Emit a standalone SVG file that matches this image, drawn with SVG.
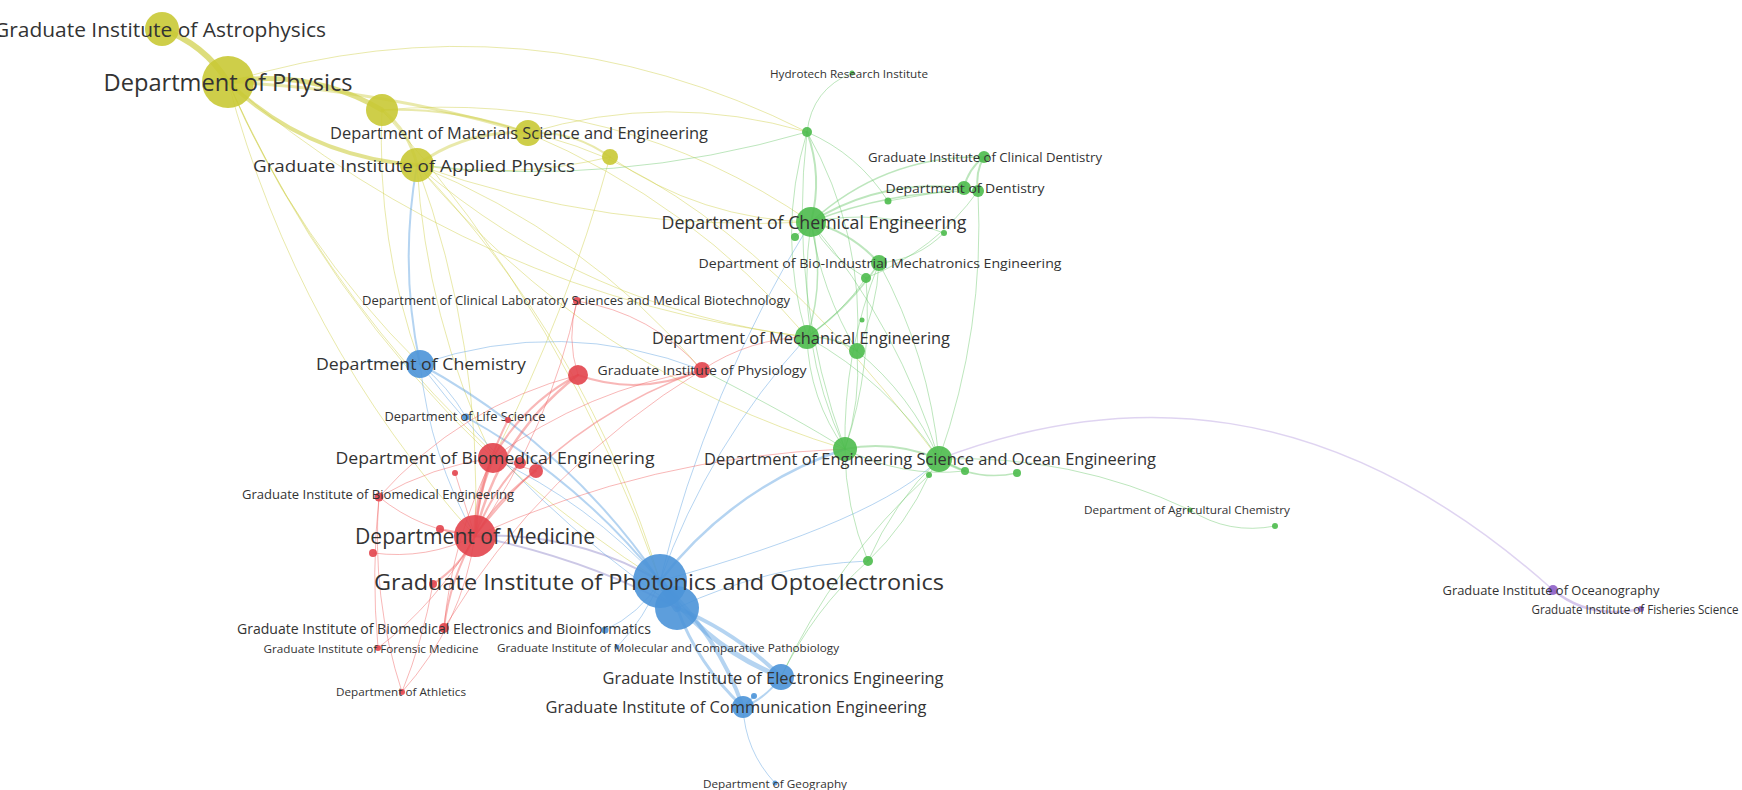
<svg xmlns="http://www.w3.org/2000/svg" width="1742" height="790" viewBox="0 0 1742 790">
<style>
.edges path{fill:none;stroke-opacity:.45;stroke-width:1;stroke-linecap:round}
.ey{stroke:#cfcf45}.eg{stroke:#6cc86c}.eb{stroke:#5b9fe0}.er{stroke:#ef6060}.ep{stroke:#b9a0e0}
.ny{fill:#c9c935;fill-opacity:.9}.ng{fill:#4cbb4c;fill-opacity:.9}.nb{fill:#4b93d8;fill-opacity:.9}.nr{fill:#e2444c;fill-opacity:.9}.np{fill:#8e5fc7;fill-opacity:.9}
text{font-family:"Open Sans","Noto Sans","Liberation Sans",sans-serif;fill:#333;text-anchor:middle;dominant-baseline:central}
</style>
<rect width="1742" height="790" fill="#fff"/>
<g id="connectors" class="edges">
<!-- yellow -->
<path class="ey" style="stroke-width:6;stroke-opacity:.7" d="M162,29 Q204,44 228,82"/>
<path class="ey" style="stroke-width:5;stroke-opacity:.65" d="M228,82 Q310,68 382,110"/>
<path class="ey" style="stroke-width:4;stroke-opacity:.6" d="M228,82 Q307,157 417,165"/>
<path class="ey" style="stroke-width:3" d="M228,82 Q381,89 528,133"/>
<path class="ey" style="stroke-width:2" d="M382,110 Q457,107 528,133"/>
<path class="ey" style="stroke-width:3" d="M382,110 Q409,131 417,165"/>
<path class="ey" style="stroke-width:3" d="M417,165 Q467,129 528,133"/>
<path class="ey" style="stroke-width:2" d="M528,133 Q573,130 610,157"/>
<path class="ey" d="M417,165 Q514,180 610,157"/>
<path class="ey" d="M228,82 Q527,-9 807,132"/>
<path class="ey" d="M382,110 Q617,89 811,222"/>
<path class="ey" d="M528,133 Q667,91 807,132"/>
<path class="ey" d="M417,165 Q608,233 811,222"/>
<path class="ey" d="M610,157 Q701,220 811,222"/>
<path class="ey" d="M417,165 Q586,310 807,337"/>
<path class="ey" d="M417,165 Q588,371 845,449"/>
<path class="ey" d="M228,82 Q296,242 420,364"/>
<path class="ey" d="M228,82 Q297,339 475,536"/>
<path class="ey" d="M228,82 Q369,396 660,581"/>
<path class="ey" d="M417,165 Q483,345 475,536"/>
<path class="ey" d="M417,165 Q588,344 660,581"/>
<path class="ey" d="M417,165 Q426,319 493,458"/>
<path class="ey" d="M382,110 Q568,318 660,581"/>
<path class="ey" d="M228,82 Q323,297 493,458"/>
<path class="ey" d="M417,165 Q584,233 702,370"/>
<path class="ey" d="M528,133 Q692,202 807,337"/>
<path class="ey" d="M610,157 Q567,313 493,458"/>
<path class="ey" d="M382,110 Q376,241 420,364"/>
<path class="ey" d="M228,82 Q479,296 807,337"/>
<path class="ey" d="M528,133 Q720,170 939,459"/>
<!-- blue -->
<path class="eb" style="stroke-width:2" d="M420,364 Q399,265 417,165"/>
<path class="eb" style="stroke-width:8;stroke-opacity:.7" d="M660,581 L677,608"/>
<path class="eb" style="stroke-width:5" d="M660,581 Q706,647 781,677"/>
<path class="eb" style="stroke-width:4" d="M660,581 Q717,634 743,707"/>
<path class="eb" style="stroke-width:4" d="M677,608 Q736,632 781,677"/>
<path class="eb" style="stroke-width:3" d="M677,608 Q698,665 743,707"/>
<path class="eb" style="stroke-width:2" d="M781,677 Q765,699 743,707"/>
<path class="eb" d="M743,707 Q745,751 775,783"/>
<path class="eb" style="stroke-width:2" d="M743,707 L754,696"/>
<path class="eb" d="M660,581 Q645,618 617,647"/>
<path class="eb" d="M660,581 Q640,614 605,630"/>
<path class="eb" style="stroke-width:2.5" d="M660,581 Q733,487 845,449"/>
<path class="eb" d="M660,581 Q709,444 807,337"/>
<path class="eb" d="M660,581 Q707,389 811,222"/>
<path class="eb" style="stroke-width:2;stroke:#8f86c8" d="M660,581 Q574,531 475,536"/>
<path class="eb" style="stroke-width:2;stroke:#8f86c8" d="M677,608 Q590,560 475,536"/>
<path class="eb" d="M660,581 Q589,503 493,458"/>
<path class="eb" style="stroke-width:2" d="M660,581 Q579,480 466,417"/>
<path class="eb" style="stroke-width:2" d="M660,581 Q566,444 420,364"/>
<path class="eb" d="M420,364 Q448,386 466,417"/>
<path class="eb" d="M420,364 L369,361"/>
<path class="eb" d="M420,364 Q430,456 475,536"/>
<path class="eb" d="M420,364 Q562,316 702,370"/>
<path class="eb" d="M420,364 Q529,507 677,608"/>
<path class="eb" d="M677,608 Q768,565 868,561"/>
<path class="eb" d="M660,581 Q880,520 939,459"/>
<!-- red -->
<path class="er" style="stroke-width:4" d="M475,536 Q476,495 493,458"/>
<path class="er" style="stroke-width:2.5" d="M475,536 Q498,437 578,375"/>
<path class="er" style="stroke-width:1.5" d="M475,536 Q564,419 702,370"/>
<path class="er" style="stroke-width:2" d="M493,458 Q523,404 578,375"/>
<path class="er" d="M493,458 Q587,389 702,370"/>
<path class="er" style="stroke-width:2" d="M578,375 Q639,397 702,370"/>
<path class="er" d="M577,301 Q566,338 578,375"/>
<path class="er" d="M577,301 Q550,429 475,536"/>
<path class="er" d="M577,301 Q652,313 702,370"/>
<path class="er" d="M475,536 Q421,531 379,497"/>
<path class="er" style="stroke-width:2" d="M475,536 L440,529"/>
<path class="er" d="M475,536 Q427,560 373,553"/>
<path class="er" style="stroke-width:2" d="M475,536 Q461,566 433,584"/>
<path class="er" style="stroke-width:2" d="M475,536 Q450,579 444,628"/>
<path class="er" d="M475,536 Q438,602 378,648"/>
<path class="er" d="M475,536 Q462,625 402,692"/>
<path class="er" d="M379,497 Q371,572 378,648"/>
<path class="er" d="M379,497 Q371,597 402,692"/>
<path class="er" style="stroke-width:2" d="M475,536 Q490,495 520,463"/>
<path class="er" style="stroke-width:2" d="M475,536 Q499,497 536,471"/>
<path class="er" d="M475,536 L455,473"/>
<path class="er" style="stroke-width:2" d="M475,536 Q480,475 508,420"/>
<path class="er" d="M493,458 L520,463"/>
<path class="er" d="M493,458 L536,471"/>
<path class="er" d="M379,497 Q432,466 493,458"/>
<path class="er" d="M444,628 Q452,538 493,458"/>
<path class="er" d="M702,370 Q750,338 807,337"/>
<path class="er" d="M433,584 Q423,640 402,692"/>
<path class="er" d="M444,628 Q542,468 702,370"/>
<path class="er" d="M475,536 Q651,456 845,449"/>
<path class="er" d="M379,497 Q460,406 578,375"/>
<!-- green -->
<path class="eg" d="M852,73 Q812,89 807,132"/>
<path class="eg" style="stroke-width:2" d="M807,132 Q823,176 811,222"/>
<path class="eg" d="M807,132 Q858,154 888,201"/>
<path class="eg" d="M807,132 Q776,235 807,337"/>
<path class="eg" d="M807,132 Q788,295 845,449"/>
<path class="eg" d="M807,132 Q615,188 417,165"/>
<path class="eg" d="M807,132 Q865,234 857,351"/>
<path class="eg" style="stroke-width:2" d="M811,222 Q881,178 964,188"/>
<path class="eg" style="stroke-width:1.5" d="M811,222 Q885,155 984,157"/>
<path class="eg" style="stroke-width:1.5" d="M811,222 Q891,190 978,191"/>
<path class="eg" style="stroke-width:2" d="M964,188 Q968,169 984,157"/>
<path class="eg" style="stroke-width:2" d="M978,191 Q975,172 984,157"/>
<path class="eg" d="M964,188 L888,201"/>
<path class="eg" style="stroke-width:2" d="M811,222 Q851,232 879,263"/>
<path class="eg" d="M811,222 Q830,258 866,278"/>
<path class="eg" style="stroke-width:1.5" d="M811,222 Q826,280 807,337"/>
<path class="eg" d="M811,222 Q794,341 845,449"/>
<path class="eg" d="M811,222 Q899,328 939,459"/>
<path class="eg" d="M811,222 Q821,291 857,351"/>
<path class="eg" d="M811,222 L795,237"/>
<path class="eg" d="M811,222 Q879,208 944,233"/>
<path class="eg" d="M978,191 Q985,329 939,459"/>
<path class="eg" d="M978,191 Q935,251 866,278"/>
<path class="eg" style="stroke-width:1.5" d="M879,263 Q850,307 807,337"/>
<path class="eg" d="M879,263 Q877,309 857,351"/>
<path class="eg" d="M879,263 Q843,353 845,449"/>
<path class="eg" d="M879,263 Q929,355 939,459"/>
<path class="eg" d="M866,278 Q873,366 845,449"/>
<path class="eg" d="M866,278 Q842,313 807,337"/>
<path class="eg" style="stroke-width:1.5" d="M807,337 Q834,336 857,351"/>
<path class="eg" d="M807,337 Q809,399 845,449"/>
<path class="eg" d="M807,337 Q888,382 939,459"/>
<path class="eg" d="M857,351 Q861,401 845,449"/>
<path class="eg" d="M857,351 Q911,395 939,459"/>
<path class="eg" style="stroke-width:2" d="M845,449 Q893,440 939,459"/>
<path class="eg" style="stroke-width:1.5" d="M939,459 L965,471"/>
<path class="eg" style="stroke-width:1.5" d="M939,459 Q975,482 1017,473"/>
<path class="eg" d="M939,459 L929,475"/>
<path class="eg" d="M845,449 Q902,478 965,471"/>
<path class="eg" d="M939,459 Q1071,454 1190,510"/>
<path class="eg" d="M1190,510 Q1229,535 1275,526"/>
<path class="eg" d="M868,561 Q907,524 929,475"/>
<path class="eg" d="M868,561 Q893,503 939,459"/>
<path class="eg" d="M868,561 Q845,507 845,449"/>
<path class="eg" d="M781,677 Q813,610 868,561"/>
<path class="eg" d="M781,677 Q835,561 929,475"/>
<path class="eg" d="M944,233 Q917,260 879,263"/>
<path class="eg" d="M702,370 Q800,420 845,449"/>
<path class="ep" style="stroke-width:1.5" d="M939,459 C1120,390 1330,390 1553,590"/>
<path class="ep" style="stroke-width:2.5;stroke-opacity:.6" d="M1553,590 Q1590,620 1641,609"/>
</g>
<g id="n-astrophysics"><circle class="ny" cx="162" cy="29" r="17"/><text x="160" y="29" font-size="20" textLength="332" lengthAdjust="spacingAndGlyphs">Graduate Institute of Astrophysics</text></g>
<g id="n-physics"><circle class="ny" cx="228" cy="82" r="26"/><text x="228" y="82" font-size="23" textLength="249" lengthAdjust="spacingAndGlyphs">Department of Physics</text></g>
<g id="n-y3"><circle class="ny" cx="382" cy="110" r="16"/></g>
<g id="n-materials"><circle class="ny" cx="528" cy="133" r="13"/><text x="519" y="133" font-size="16" textLength="378" lengthAdjust="spacingAndGlyphs">Department of Materials Science and Engineering</text></g>
<g id="n-applied-physics"><circle class="ny" cx="417" cy="165" r="17"/><text x="414" y="165" font-size="17" textLength="322" lengthAdjust="spacingAndGlyphs">Graduate Institute of Applied Physics</text></g>
<g id="n-y6"><circle class="ny" cx="610" cy="157" r="8"/></g>
<g id="n-hydrotech"><circle class="ng" cx="852" cy="73" r="2.5"/><text x="849" y="73" font-size="11" textLength="158" lengthAdjust="spacingAndGlyphs">Hydrotech Research Institute</text></g>
<g id="n-g2"><circle class="ng" cx="807" cy="132" r="5"/></g>
<g id="n-clinical-dentistry"><circle class="ng" cx="984" cy="157" r="6"/><text x="985" y="157" font-size="12" textLength="234" lengthAdjust="spacingAndGlyphs">Graduate Institute of Clinical Dentistry</text></g>
<g id="n-dentistry"><circle class="ng" cx="964" cy="188" r="7"/><circle class="ng" cx="978" cy="191" r="6"/><text x="965" y="188" font-size="13" textLength="159" lengthAdjust="spacingAndGlyphs">Department of Dentistry</text></g>
<g id="n-g6"><circle class="ng" cx="888" cy="201" r="3.5"/></g>
<g id="n-chemical-eng"><circle class="ng" cx="811" cy="222" r="15"/><circle class="ng" cx="795" cy="237" r="4"/><circle class="ng" cx="944" cy="233" r="3"/><text x="814" y="222" font-size="18" textLength="305" lengthAdjust="spacingAndGlyphs">Department of Chemical Engineering</text></g>
<g id="n-bio-industrial"><circle class="ng" cx="879" cy="263" r="8"/><circle class="ng" cx="866" cy="278" r="5"/><circle class="ng" cx="862" cy="320" r="2.5"/><text x="880" y="263" font-size="13.5" textLength="363" lengthAdjust="spacingAndGlyphs">Department of Bio-Industrial Mechatronics Engineering</text></g>
<g id="n-mechanical-eng"><circle class="ng" cx="807" cy="337" r="12"/><circle class="ng" cx="857" cy="351" r="8"/><text x="801" y="337" font-size="17" textLength="298" lengthAdjust="spacingAndGlyphs">Department of Mechanical Engineering</text></g>
<g id="n-eng-science"><circle class="ng" cx="845" cy="449" r="12"/><circle class="ng" cx="939" cy="459" r="13"/><circle class="ng" cx="965" cy="471" r="4"/><circle class="ng" cx="1017" cy="473" r="4"/><circle class="ng" cx="929" cy="475" r="3"/><text x="930" y="458" font-size="16.5" textLength="452" lengthAdjust="spacingAndGlyphs">Department of Engineering Science and Ocean Engineering</text></g>
<g id="n-agri-chem"><circle class="ng" cx="1190" cy="510" r="2.5"/><circle class="ng" cx="1275" cy="526" r="3"/><text x="1187" y="509" font-size="11.5" textLength="206" lengthAdjust="spacingAndGlyphs">Department of Agricultural Chemistry</text></g>
<g id="n-g22"><circle class="ng" cx="868" cy="561" r="5"/></g>
<g id="n-chemistry"><circle class="nb" cx="420" cy="364" r="14"/><circle class="nb" cx="369" cy="361" r="2"/><text x="421" y="363" font-size="17" textLength="210" lengthAdjust="spacingAndGlyphs">Department of Chemistry</text></g>
<g id="n-life-science"><circle class="nb" cx="466" cy="417" r="3.5"/><text x="465" y="416" font-size="12" textLength="161" lengthAdjust="spacingAndGlyphs">Department of Life Science</text></g>
<g id="n-clinical-lab"><circle class="nr" cx="577" cy="301" r="4"/><text x="576" y="300" font-size="12" textLength="428" lengthAdjust="spacingAndGlyphs">Department of Clinical Laboratory Sciences and Medical Biotechnology</text></g>
<g id="n-r2"><circle class="nr" cx="578" cy="375" r="10"/></g>
<g id="n-physiology"><circle class="nr" cx="702" cy="370" r="8"/><text x="702" y="370" font-size="13" textLength="209" lengthAdjust="spacingAndGlyphs">Graduate Institute of Physiology</text></g>
<g id="n-biomedical-eng"><circle class="nr" cx="508" cy="420" r="3"/><circle class="nr" cx="493" cy="458" r="15"/><circle class="nr" cx="520" cy="463" r="6"/><circle class="nr" cx="536" cy="471" r="7"/><circle class="nr" cx="455" cy="473" r="3"/><text x="495" y="457" font-size="17" textLength="319" lengthAdjust="spacingAndGlyphs">Department of Biomedical Engineering</text></g>
<g id="n-grad-biomedical-eng"><circle class="nr" cx="379" cy="497" r="4.5"/><text x="378" y="494" font-size="12.5" textLength="272" lengthAdjust="spacingAndGlyphs">Graduate Institute of Biomedical Engineering</text></g>
<g id="n-medicine"><circle class="nr" cx="475" cy="536" r="21"/><circle class="nr" cx="440" cy="529" r="4"/><circle class="nr" cx="373" cy="553" r="4"/><circle class="nr" cx="433" cy="584" r="4"/><text x="475" y="536" font-size="21" textLength="240" lengthAdjust="spacingAndGlyphs">Department of Medicine</text></g>
<g id="n-photonics"><circle class="nb" cx="660" cy="581" r="27"/><circle class="nb" cx="677" cy="608" r="22"/><text x="659" y="581" font-size="22.5" textLength="570" lengthAdjust="spacingAndGlyphs">Graduate Institute of Photonics and Optoelectronics</text></g>
<g id="n-biomed-electronics"><circle class="nr" cx="444" cy="628" r="5"/><circle class="nb" cx="605" cy="630" r="3.5"/><text x="444" y="628" font-size="14" textLength="414" lengthAdjust="spacingAndGlyphs">Graduate Institute of Biomedical Electronics and Bioinformatics</text></g>
<g id="n-molecular"><circle class="nb" cx="617" cy="647" r="2.5"/><text x="668" y="647" font-size="11.5" textLength="342" lengthAdjust="spacingAndGlyphs">Graduate Institute of Molecular and Comparative Pathobiology</text></g>
<g id="n-forensic"><circle class="nr" cx="378" cy="648" r="3"/><text x="371" y="648" font-size="11.5" textLength="215" lengthAdjust="spacingAndGlyphs">Graduate Institute of Forensic Medicine</text></g>
<g id="n-athletics"><circle class="nr" cx="402" cy="692" r="3"/><text x="401" y="691" font-size="11.5" textLength="130" lengthAdjust="spacingAndGlyphs">Department of Athletics</text></g>
<g id="n-electronics"><circle class="nb" cx="781" cy="677" r="13"/><text x="773" y="677" font-size="16.5" textLength="341" lengthAdjust="spacingAndGlyphs">Graduate Institute of Electronics Engineering</text></g>
<g id="n-communication"><circle class="nb" cx="743" cy="707" r="11"/><circle class="nb" cx="754" cy="696" r="3"/><text x="736" y="706" font-size="16.5" textLength="381" lengthAdjust="spacingAndGlyphs">Graduate Institute of Communication Engineering</text></g>
<g id="n-geography"><circle class="nb" cx="775" cy="783" r="2.5"/><text x="775" y="783" font-size="11.5" textLength="144" lengthAdjust="spacingAndGlyphs">Department of Geography</text></g>
<g id="n-oceanography"><circle class="np" cx="1553" cy="590" r="5"/><text x="1551" y="590" font-size="13.5" textLength="217" lengthAdjust="spacingAndGlyphs">Graduate Institute of Oceanography</text></g>
<g id="n-fisheries"><circle class="np" cx="1641" cy="609" r="3"/><text x="1635" y="609" font-size="12.5" textLength="207" lengthAdjust="spacingAndGlyphs">Graduate Institute of Fisheries Science</text></g>
</svg>
